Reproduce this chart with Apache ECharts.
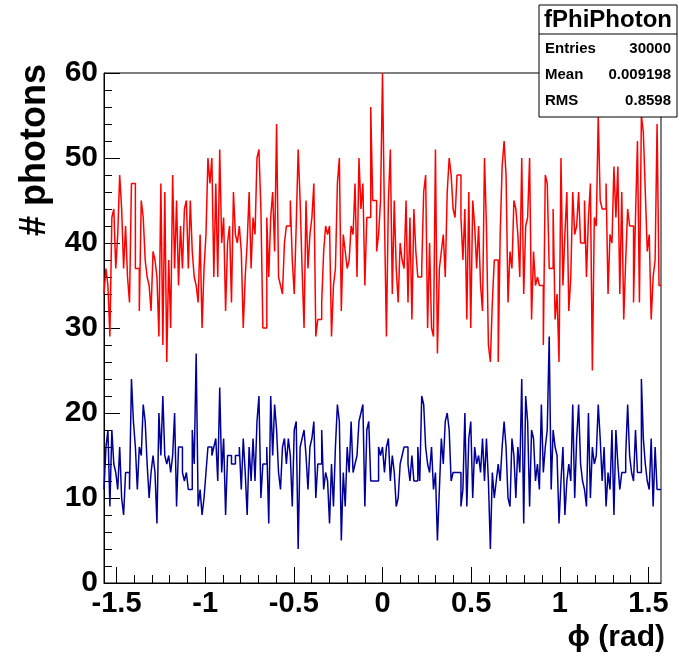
<html lang="en">
<head>
<meta charset="utf-8">
<title>fPhiPhoton</title>
<script src="https://cdn.jsdelivr.net/npm/echarts@6/dist/echarts.min.js"></script>
<style>
	body { margin: 0; background: #fff; }
	#main { width: 679px; height: 656px; }
</style>
</head>
<body>
<div id="main"></div>
<script>
// phi range of the histogram
var phiMin = -Math.PI / 2;
var phiMax = Math.PI / 2;

// bin contents, left to right
var redCounts = [
	34, 37, 35, 29, 43, 44, 37, 41, 48, 44, 37, 42, 36, 33, 47, 47, 37, 37, 32, 45, 43, 38, 36, 35, 32, 39,
	38, 36, 29, 47, 28, 46, 26, 38, 30, 48, 37, 45, 35, 42, 37, 44, 45, 37, 45, 39, 36, 35, 33, 41, 30, 37, 41, 50,
	47, 50, 36, 47, 36, 51, 40, 43, 32, 40, 42, 33, 46, 41, 40, 42, 39, 30, 36, 40, 46, 37, 43, 41, 50, 51, 44, 30,
	30, 43, 36, 43, 46, 39, 54, 36, 35, 34, 40, 42, 42, 45, 38, 34, 42, 51, 45, 37, 30, 45, 37, 41, 43, 47, 29, 31,
	31, 33, 39, 42, 41, 42, 29, 35, 37, 47, 50, 32, 41, 39, 37, 38, 42, 41, 47, 36, 50, 44, 47, 35, 43, 43, 56, 45,
	45, 39, 41, 45, 60, 43, 29, 45, 51, 34, 45, 37, 33, 40, 38, 37, 45, 33, 43, 31, 44, 39, 36, 36, 37, 46, 48, 30, 40,
	30, 29, 51, 27, 37, 39, 41, 36, 46, 50, 48, 44, 43, 48, 48, 43, 38, 44, 31, 46, 30, 45, 42, 37, 42, 35, 32, 50,
	42, 28, 26, 33, 38, 38, 26, 41, 49, 52, 48, 33, 39, 37, 45, 44, 41, 36, 50, 34, 42, 43, 50, 31, 39, 35, 36, 35,
	35, 28, 48, 47, 37, 37, 44, 31, 34, 26, 50, 35, 41, 46, 32, 36, 46, 41, 42, 46, 40, 40, 45, 36, 43, 47, 25, 43,
	42, 55, 45, 44, 44, 47, 34, 41, 40, 49, 43, 49, 34, 46, 31, 38, 44, 42, 42, 33, 43, 52, 33, 55, 53, 46, 39, 41, 31, 36, 38, 54, 35
];
var blueCounts = [
	11, 16, 18, 9, 18, 14, 13, 11, 16, 10, 8, 13, 13, 11, 24, 19, 16, 11, 16, 15, 21, 19, 14, 10, 13, 15,
	13, 7, 20, 15, 22, 15, 14, 15, 13, 15, 20, 9, 16, 16, 13, 12, 13, 11, 11, 18, 14, 27, 9, 11, 8, 10, 13, 16,
	16, 15, 16, 17, 12, 23, 13, 17, 8, 15, 15, 14, 14, 15, 15, 16, 11, 17, 13, 8, 16, 12, 17, 12, 19, 22, 10, 14,
	14, 16, 7, 22, 15, 21, 18, 13, 11, 16, 17, 14, 17, 15, 9, 18, 19, 4, 16, 17, 18, 15, 11, 16, 17, 19, 10, 14,
	14, 18, 11, 13, 12, 7, 14, 9, 16, 21, 19, 5, 13, 9, 16, 13, 19, 13, 14, 15, 19, 20, 21, 9, 18, 19, 12, 12,
	12, 12, 16, 15, 16, 13, 16, 17, 12, 15, 13, 9, 10, 14, 15, 16, 16, 14, 12, 15, 12, 12, 16, 12, 22, 21, 16, 14, 13,
	16, 11, 13, 5, 11, 17, 14, 19, 20, 18, 12, 13, 13, 13, 13, 9, 11, 20, 9, 17, 19, 10, 16, 14, 15, 13, 17, 12,
	17, 12, 4, 13, 10, 12, 14, 12, 16, 19, 16, 10, 9, 17, 15, 10, 16, 13, 24, 7, 22, 19, 9, 18, 17, 12, 14, 11,
	21, 13, 16, 18, 29, 11, 18, 16, 15, 7, 12, 16, 8, 12, 14, 12, 21, 10, 17, 21, 14, 12, 11, 9, 20, 10, 16, 14,
	15, 21, 17, 12, 16, 9, 13, 11, 18, 8, 18, 14, 11, 13, 13, 15, 21, 15, 13, 12, 18, 13, 13, 24, 17, 14, 12, 11, 17, 9, 16, 11, 11
];

var xTickLabels = [-1.5, -1, -0.5, 0, 0.5, 1, 1.5];
var statTitle = 'fPhiPhoton';
var statNames = ['Entries', 'Mean', 'RMS'];
var statValues = ['30000', '0.009198', '0.8598'];

// histogram outline: one point per bin edge, drawn as steps
function histPoints(counts) {
	var w = (phiMax - phiMin) / counts.length;
	var pts = [];
	for (var i = 0; i < counts.length; i++) {
		pts.push([phiMin + i * w, counts[i]]);
	}
	pts.push([phiMax, counts[counts.length - 1]]);
	return pts;
}

var minorTicks = [];
for (var k = -15; k <= 15; k++) {
	minorTicks.push(k / 10);
}

var font = 'Liberation Sans, Arial, sans-serif';
var chart = echarts.init(document.getElementById('main'), null, { renderer: 'canvas' });

var statGraphics = [
	{ type: 'rect', shape: { x: 539, y: 5, width: 138, height: 112 }, style: { fill: '#fff', stroke: '#000', lineWidth: 1 }, z: 100 },
	{ type: 'line', shape: { x1: 539, y1: 34, x2: 677, y2: 34 }, style: { stroke: '#000', lineWidth: 1 }, z: 101 },
	{ type: 'text', x: 608, y: 20, style: { text: statTitle, font: 'bold 24px ' + font, fill: '#000', align: 'center', verticalAlign: 'middle' }, z: 101 }
];
for (var s = 0; s < statNames.length; s++) {
	statGraphics.push({ type: 'text', x: 545, y: 49 + s * 26, style: { text: statNames[s], font: 'bold 15px ' + font, fill: '#000', align: 'left', verticalAlign: 'middle' }, z: 101 });
	statGraphics.push({ type: 'text', x: 671, y: 49 + s * 26, style: { text: statValues[s], font: 'bold 15px ' + font, fill: '#000', align: 'right', verticalAlign: 'middle' }, z: 101 });
}

chart.setOption({
	animation: false,
	backgroundColor: '#fff',
	grid: { left: 104, right: 18, top: 73, bottom: 73, show: true, borderColor: '#000', borderWidth: 1, backgroundColor: 'transparent' },
	xAxis: [{
		type: 'value', min: phiMin, max: phiMax,
		axisLine: { show: true, onZero: false, lineStyle: { color: '#000', width: 1 } },
		axisTick: { show: true, inside: true, length: 16, customValues: xTickLabels, lineStyle: { color: '#000' } },
		axisLabel: { customValues: xTickLabels, color: '#000', fontFamily: font, fontWeight: 'bold', fontSize: 29, margin: 6 },
		splitLine: { show: false }
	}, {
		type: 'value', min: phiMin, max: phiMax, position: 'bottom',
		axisLine: { show: false, onZero: false },
		axisTick: { show: true, inside: true, length: 8, customValues: minorTicks, lineStyle: { color: '#000' } },
		axisLabel: { show: false },
		splitLine: { show: false }
	}],
	yAxis: {
		type: 'value', min: 0, max: 60, interval: 10, position: 'left',
		axisLine: { show: true, onZero: false, lineStyle: { color: '#000', width: 1 } },
		axisTick: { show: true, inside: true, length: 16, lineStyle: { color: '#000' } },
		minorTick: { show: true, splitNumber: 5, length: 8, lineStyle: { color: '#000' } },
		axisLabel: { color: '#000', fontFamily: font, fontWeight: 'bold', fontSize: 30, margin: 6 },
		splitLine: { show: false }
	},
	graphic: [
		{ type: 'text', x: 35, y: 150, rotation: Math.PI / 2, style: { text: '# photons', font: 'bold 36px ' + font, fill: '#000', align: 'center', verticalAlign: 'middle' } },
		{ type: 'text', x: 665, y: 638, style: { text: '\u03d5 (rad)', font: 'bold 30px ' + font, fill: '#000', align: 'right', verticalAlign: 'middle' } }
	].concat(statGraphics),
	series: [{
		name: 'red', type: 'line', step: 'end', showSymbol: false, xAxisIndex: 0,
		lineStyle: { color: '#ff0000', width: 1.5 },
		data: histPoints(redCounts)
	}, {
		name: 'blue', type: 'line', step: 'end', showSymbol: false, xAxisIndex: 0,
		lineStyle: { color: '#000099', width: 1.5 },
		data: histPoints(blueCounts)
	}]
});
</script>
</body>
</html>
